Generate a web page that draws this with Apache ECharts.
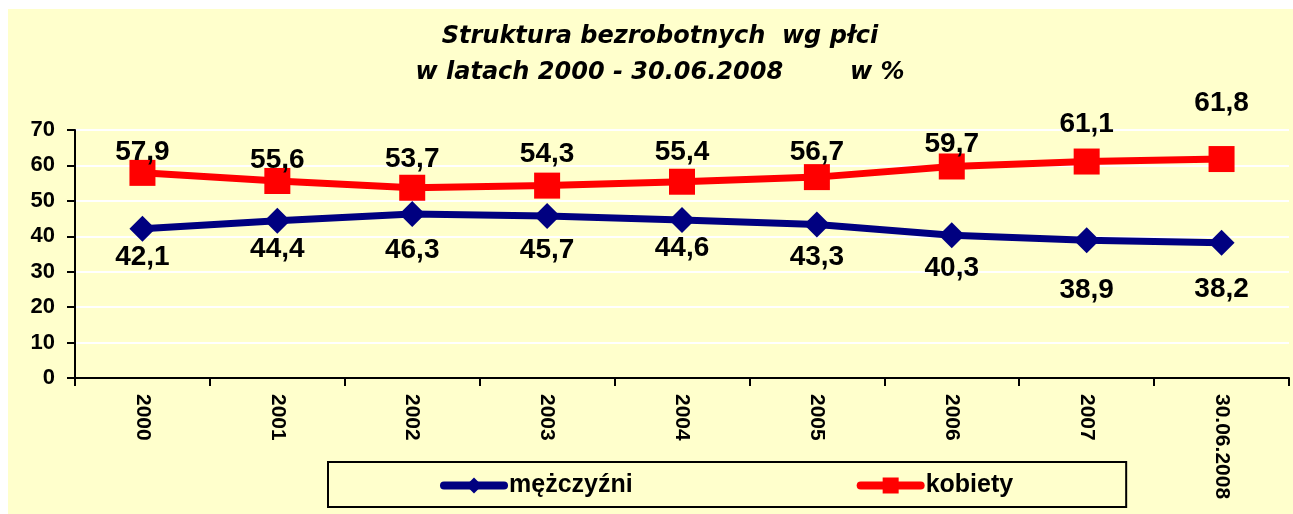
<!DOCTYPE html>
<html>
<head>
<meta charset="utf-8">
<script src="https://cdn.jsdelivr.net/npm/echarts@6/dist/echarts.min.js"></script>
<style>
html,body{margin:0;padding:0;background:#fff;}
#chart{width:1293px;height:514px;}
</style>
</head>
<body>
<div id="chart"></div>
<script>
// dane
var years = ['2000','2001','2002','2003','2004','2005','2006','2007','30.06.2008'];
var mezczyzni = [42.1,44.4,46.3,45.7,44.6,43.3,40.3,38.9,38.2];
var kobiety = [57.9,55.6,53.7,54.3,55.4,56.7,59.7,61.1,61.8];
var yTicks = [0,10,20,30,40,50,60,70];

// przesuniecia etykiet (jak w Excelu)
var offM = [28,29,36,34,28,33,33,50,47];
var offK = [-21,-21,-28,-31,-29,-25,-22,-37,-56];

var fontName = 'Arial, "Liberation Sans", sans-serif';

function pts(vals, offs){
	return vals.map(function(v,i){
		return { value: v, label: { offset: [0, offs[i]] } };
	});
}
function fmt(p){ return String(p.value).replace('.', ','); }

var chart = echarts.init(document.getElementById('chart'));
var option = {
	animation: false,
	textStyle: { fontFamily: fontName },
	graphic: [{
		type: 'rect', z: -10,
		shape: { x: 8, y: 9, width: 1285, height: 510 },
		style: { fill: '#FFFFCC' }
	}],
	title: {
		text: 'Struktura bezrobotnych  wg płci\nw latach 2000 - 30.06.2008        w %',
		left: 655, textAlign: 'center', top: 14,
		textStyle: { fontSize: 24, fontWeight: 'bold', fontStyle: 'italic', color: '#000', lineHeight: 36,
			fontFamily: '"DejaVu Sans", sans-serif' }
	},
	grid: { left: 75, right: 4, top: 130, bottom: 136 },
	legend: {
		left: 328, top: 462,
		orient: 'horizontal',
		itemWidth: 60, itemHeight: 20, itemGap: 224,
		padding: [11, 113, 9, 112],
		borderColor: '#000', borderWidth: 2,
		textStyle: { fontSize: 25, fontWeight: 'bold', color: '#000', fontFamily: fontName },
		data: [
			{ name: 'mężczyźni', lineStyle: { width: 8, cap: 'round' } },
			{ name: 'kobiety', lineStyle: { width: 8, cap: 'round' } }
		]
	},
	xAxis: {
		type: 'category', data: years, boundaryGap: true,
		axisLine: { lineStyle: { color: '#000', width: 2 } },
		axisTick: { show: true, length: 8, lineStyle: { color: '#000', width: 2 } },
		axisLabel: { rotate: -90, margin: 16, fontSize: 21, fontWeight: 'bold', color: '#000', interval: 0 },
		splitLine: { show: false }
	},
	yAxis: {
		type: 'value', min: 0, max: 70, interval: 10,
		axisLine: { show: true, lineStyle: { color: '#000', width: 2 } },
		axisTick: { show: true, length: 8, lineStyle: { color: '#000', width: 2 } },
		axisLabel: { fontSize: 22, fontWeight: 'bold', color: '#000', margin: 20,
			formatter: function(v){ return yTicks.indexOf(v) >= 0 ? String(v) : ''; } },
		splitLine: { show: true, lineStyle: { color: '#fff', width: 2 } }
	},
	series: [
		{
			name: 'mężczyźni', type: 'line',
			data: pts(mezczyzni, offM),
			symbol: 'diamond', symbolSize: 26,
			lineStyle: { color: '#000080', width: 7 },
			itemStyle: { color: '#000080' },
			label: { show: true, position: 'inside', fontSize: 28, fontWeight: 'bold', color: '#000', formatter: fmt }
		},
		{
			name: 'kobiety', type: 'line',
			data: pts(kobiety, offK),
			symbol: 'rect', symbolSize: 26,
			lineStyle: { color: '#FF0000', width: 7 },
			itemStyle: { color: '#FF0000' },
			label: { show: true, position: 'inside', fontSize: 28, fontWeight: 'bold', color: '#000', formatter: fmt }
		}
	]
};
chart.setOption(option);
</script>
</body>
</html>
